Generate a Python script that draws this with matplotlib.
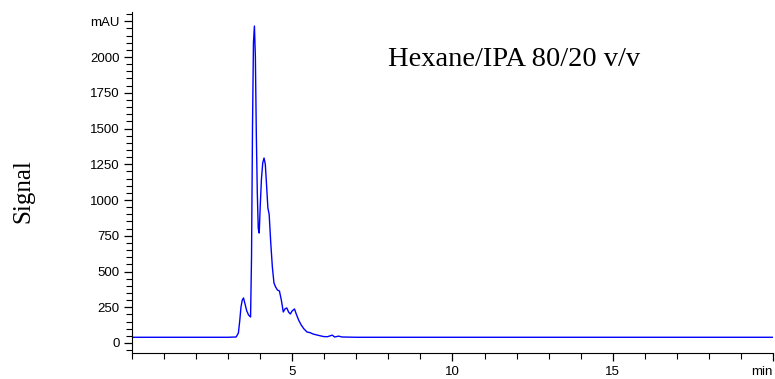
import matplotlib.pyplot as plt
from matplotlib.ticker import MultipleLocator, FixedLocator

# retention time (min) and detector signal (mAU)
time = [0.0, 1.0, 2.0, 3.0, 3.25, 3.32, 3.36, 3.40, 3.44, 3.48, 3.53, 3.58, 3.64, 3.70,
        3.73, 3.76, 3.79, 3.82, 3.85, 3.88, 3.91, 3.94, 3.97, 4.00, 4.04, 4.08, 4.12,
        4.16, 4.20, 4.24, 4.28, 4.33, 4.38, 4.43, 4.48, 4.54, 4.60, 4.66, 4.72, 4.78,
        4.83, 4.89, 4.94, 5.00, 5.07, 5.13, 5.20, 5.28, 5.36, 5.46, 5.56, 5.66, 5.77,
        5.88, 5.98, 6.10, 6.25, 6.32, 6.45, 6.55, 7.0, 8.0, 10.0, 12.0, 14.0, 16.0,
        18.0, 20.0]
signal = [40, 40, 40, 40, 42, 70, 150, 250, 300, 315, 270, 225, 195, 182,
          600, 1500, 2100, 2217, 2000, 1450, 1050, 800, 769, 950, 1150, 1260, 1294,
          1250, 1100, 944, 900, 700, 531, 420, 392, 370, 364, 300, 217, 240,
          245, 215, 203, 225, 238, 200, 160, 126, 100, 77, 72, 62, 56,
          50, 45, 44, 55, 42, 48, 42, 40, 40, 40, 40, 40, 40,
          40, 40]

y_major = [0, 250, 500, 750, 1000, 1250, 1500, 1750, 2000, 2250]
y_labels = ["0", "250", "500", "750", "1000", "1250", "1500", "1750", "2000", "mAU"]
x_major = [5, 10, 15, 20]
x_labels = ["5", "10", "15", "min"]

fig = plt.figure(figsize=(7.75, 3.79), dpi=100)
ax = fig.add_axes([0.1703, 0.0686, 0.8271, 0.8997])
ax.plot(time, signal, color="#0000ff", linewidth=1.0)

ax.set_xlim(0, 20)
ax.set_ylim(-70, 2315)
for side in ["top", "right"]:
    ax.spines[side].set_visible(False)

ax.yaxis.set_major_locator(FixedLocator(y_major))
ax.set_yticklabels(y_labels)
ax.yaxis.set_minor_locator(MultipleLocator(50))
ax.xaxis.set_major_locator(FixedLocator(x_major))
ax.set_xticklabels(x_labels)
ax.xaxis.set_minor_locator(MultipleLocator(1))

ax.tick_params(axis="both", which="major", length=6, width=0.9, labelsize=9.5,
               pad=3)
ax.tick_params(axis="both", which="minor", length=4, width=0.8)
for lab in ax.get_xticklabels() + ax.get_yticklabels():
    lab.set_fontfamily("Liberation Sans")
ax.get_xticklabels()[-1].set_ha("right")

fig.text(0.03, 0.495, "Signal", rotation=90, ha="center", va="center",
         fontsize=18, family="Liberation Serif")
ax.text(0.596, 0.86, "Hexane/IPA 80/20 v/v", transform=ax.transAxes,
        ha="center", va="center", fontsize=20.5, family="Liberation Serif")

fig.savefig("out.png", dpi=100)
